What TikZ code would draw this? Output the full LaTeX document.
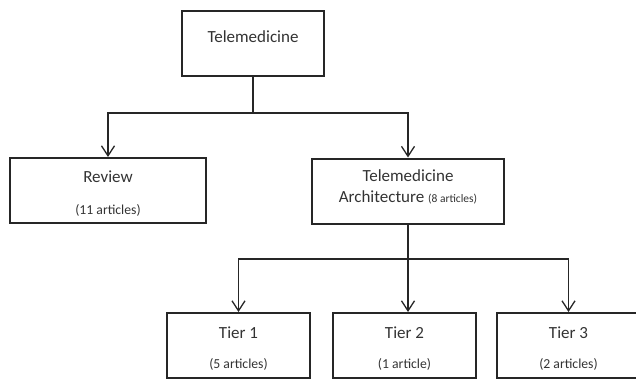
\documentclass[tikz,border=0pt]{standalone}
\usepackage{fontspec}
\setmainfont{Carlito}
\usetikzlibrary{positioning, arrows.meta}
\definecolor{boxline}{RGB}{38,38,38}
\definecolor{boxtext}{RGB}{51,51,51}
\tikzset{
  topic/.style = {rectangle, draw = boxline, line width = 2pt, inner sep = 0pt,
                  text = boxtext, align = center, minimum height = 65pt,
                  font = \fontsize{17}{20}\selectfont},
  tier/.style = {topic, minimum width = 143pt},
  plainline/.style = {draw = boxline, line width = 1.3pt},
  arrowline/.style = {plainline, -{Straight Barb[length = 10pt, width = 13pt]}}
}
\newcommand{\artcount}[1]{{\fontsize{13.7}{16}\selectfont #1}}
\newcommand{\archcount}[1]{{\fontsize{11.5}{14}\selectfont #1}}
\newcommand{\lowerstrut}{\rule{0pt}{18pt}}
\newcommand{\raisestrut}{\rule[-9pt]{0pt}{9pt}}

\begin{document}
\begin{tikzpicture}[x = 1pt, y = -1pt]
  \useasboundingbox (0,0) rectangle (636,381);

  \node [topic, minimum width = 142pt, text depth = 14pt] (tele) at (253,43.5) {Telemedicine};
  \node [topic, minimum width = 196pt] (review) at (108,190.5)
        {\lowerstrut Review\\[12pt]\artcount{(11 articles)}};
  \node [topic, minimum width = 192pt] (arch) at (408,191)
        {Telemedicine\\[1pt]Architecture \archcount{(8 articles)}\raisestrut};
  \node [tier] (tierone) at (238.5,345.5) {\lowerstrut Tier 1\\[9.5pt]\artcount{(5 articles)}};
  \node [tier] (tiertwo) at (404.5,345.5) {\lowerstrut Tier 2\\[9.5pt]\artcount{(1 article)}};
  \node [tier] (tierthree) at (568.5,345.5) {\lowerstrut Tier 3\\[9.5pt]\artcount{(2 articles)}};

  \coordinate (forkone) at (253,113);
  \coordinate (forktwo) at (408,259);

  \path [plainline] (tele) -- (forkone)
                    (arch) -- (forktwo);
  \path [arrowline] (forkone) -| (review.north);
  \path [arrowline] (forkone) -| (arch.north);
  \path [arrowline] (forktwo) -| (tierone.north);
  \path [arrowline] (forktwo) -- (forktwo |- tiertwo.north);
  \path [arrowline] (forktwo) -| (tierthree.north);
\end{tikzpicture}
\end{document}
